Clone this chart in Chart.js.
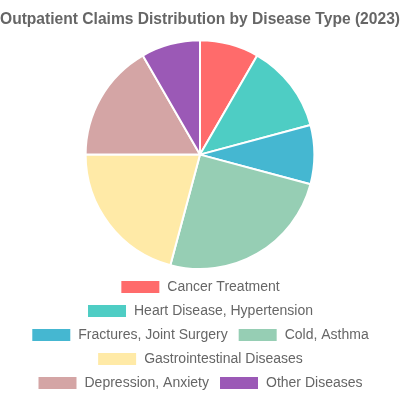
<!DOCTYPE html>
<html lang="en">
<head>
    <meta charset="UTF-8"/>
    <title>Outpatient Claims</title>
    <script src="https://cdn.jsdelivr.net/npm/chart.js"></script>
    <style>
        body { margin: 0; background: white; }
        #wrap { width: 400px; height: 400px; }
    </style>
</head>
<body>
    <div id="wrap"><canvas id="pieChart"></canvas></div>
    <script>
        const categories = [
            'Cancer Treatment',
            'Heart Disease, Hypertension',
            'Fractures, Joint Surgery',
            'Cold, Asthma',
            'Gastrointestinal Diseases',
            'Depression, Anxiety',
            'Other Diseases'
        ];
        const claimShares = [8, 12, 8, 24, 20, 16, 8];
        const sliceColors = ['#FF6B6B', '#4ECDC4', '#45B7D1', '#96CEB4', '#FFEAA7', '#D4A5A5', '#9B59B6'];

        Chart.defaults.font.family = "'Liberation Sans', Arial, sans-serif";

        new Chart(document.getElementById('pieChart'), {
            type: 'pie',
            data: {
                labels: categories,
                datasets: [{
                    data: claimShares,
                    backgroundColor: sliceColors,
                    borderColor: '#ffffff',
                    borderWidth: 2
                }]
            },
            options: {
                responsive: true,
                maintainAspectRatio: false,
                animation: false,
                plugins: {
                    title: {
                        display: true,
                        text: 'Outpatient Claims Distribution by Disease Type (2023)',
                        color: '#666',
                        font: { size: 16, weight: 'bold' }
                    },
                    legend: {
                        position: 'bottom',
                        labels: { color: '#666', font: { size: 14 } }
                    }
                }
            }
        });
    </script>
</body>
</html>
